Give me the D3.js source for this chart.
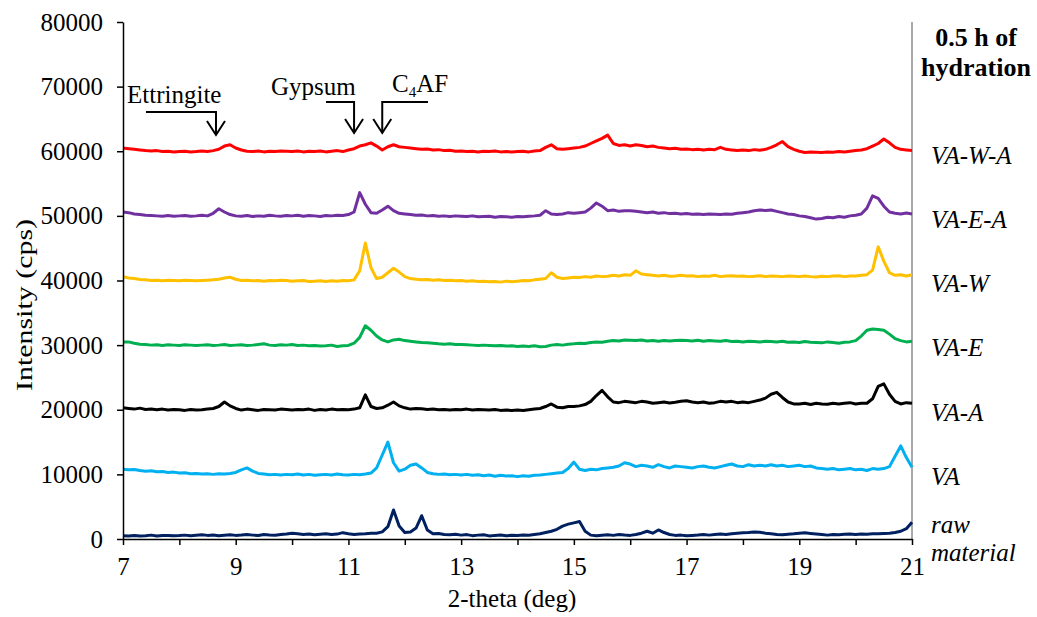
<!DOCTYPE html>
<html>
<head>
<meta charset="utf-8">
<script src="https://cdn.jsdelivr.net/npm/d3@7/dist/d3.min.js"></script>
<style>
  html, body { margin: 0; padding: 0; background: #ffffff; }
  svg { display: block; }
  .serif { font-family: "Liberation Serif", "Times New Roman", Times, serif; }
</style>
</head>
<body>
<svg id="chart" width="1037" height="617"></svg>
<script>
// 2-theta sampling grid (deg)
const twoTheta = [
  7.0,7.1,7.2,7.3,7.4,7.5,7.6,7.7,7.8,7.9,
  8.0,8.1,8.2,8.3,8.4,8.5,8.6,8.7,8.8,8.9,
  9.0,9.1,9.2,9.3,9.4,9.5,9.6,9.7,9.8,9.9,
  10.0,10.1,10.2,10.3,10.4,10.5,10.6,10.7,10.8,10.9,
  11.0,11.1,11.2,11.3,11.4,11.5,11.6,11.7,11.8,11.9,
  12.0,12.1,12.2,12.3,12.4,12.5,12.6,12.7,12.8,12.9,
  13.0,13.1,13.2,13.3,13.4,13.5,13.6,13.7,13.8,13.9,
  14.0,14.1,14.2,14.3,14.4,14.5,14.6,14.7,14.8,14.9,
  15.0,15.1,15.2,15.3,15.4,15.5,15.6,15.7,15.8,15.9,
  16.0,16.1,16.2,16.3,16.4,16.5,16.6,16.7,16.8,16.9,
  17.0,17.1,17.2,17.3,17.4,17.5,17.6,17.7,17.8,17.9,
  18.0,18.1,18.2,18.3,18.4,18.5,18.6,18.7,18.8,18.9,
  19.0,19.1,19.2,19.3,19.4,19.5,19.6,19.7,19.8,19.9,
  20.0,20.1,20.2,20.3,20.4,20.5,20.6,20.7,20.8,20.9,
  21.0
];

// Intensities (cps), stacked patterns as measured with offsets
const rawMaterial = [
  500,450,550,480,520,600,470,530,560,500,
  540,600,520,580,640,560,620,510,590,650,
  560,620,700,600,540,680,620,590,700,760,
  900,820,700,780,650,720,800,690,760,980,
  820,700,760,820,900,900,1100,1900,4500,2000,
  1000,1100,1700,3600,1400,800,850,700,650,720,
  600,680,520,600,650,480,560,620,500,580,
  540,620,580,700,800,1000,1200,1500,2000,2300,
  2500,2700,1200,600,520,580,640,560,700,620,
  560,700,900,1200,900,1400,1000,700,560,600,
  500,560,620,700,600,680,760,700,820,900,
  960,1000,1100,1050,900,800,700,650,720,800,
  900,950,860,780,700,600,700,650,720,760,
  700,780,740,820,800,860,900,1000,1200,1600,
  2600
];
const va = [
  10800,10700,10750,10600,10500,10550,10400,10450,10300,10350,
  10200,10250,10100,10150,10050,10100,10000,10100,10050,10150,
  10300,10700,11000,10500,10150,10050,9950,10000,9900,10000,
  9950,10050,9900,10000,9850,9950,10000,9900,10050,9950,
  9900,10000,9950,10050,10200,11000,13000,15000,11800,10500,
  10800,11400,11600,11000,10300,10100,10000,10050,9950,10000,
  9900,10000,9850,9950,9800,9900,9700,9850,9750,9800,
  9650,9800,9700,9850,9900,10000,10100,10200,10300,10900,
  11900,10800,10600,10800,10700,10900,11000,11100,11300,11800,
  11600,11200,11400,11300,11100,11500,11200,11000,11300,11200,
  11100,11000,11200,11300,11100,11000,11200,11400,11600,11300,
  11200,11500,11300,11400,11300,11500,11300,11400,11200,11300,
  11400,11200,11300,11000,10900,10800,10900,10700,10800,10900,
  10700,10800,10600,10900,10800,10900,11200,12800,14400,12600,
  11100
];
const vaA = [
  20300,20200,20100,20250,20050,20100,20000,20100,19950,20050,
  20000,19900,20050,19950,20000,20100,20200,20500,21200,20600,
  20200,19950,20100,20000,19900,20050,20000,19950,20100,20050,
  19950,20050,20000,20100,19900,20050,19950,20100,20000,20050,
  20000,20100,20300,22300,20500,20200,20300,20700,21200,20600,
  20300,20100,20200,20150,20050,20100,20000,20050,19950,20050,
  20000,20100,19950,20050,20000,19950,20050,19900,19950,19900,
  19950,19900,20000,20100,20200,20500,20900,20400,20300,20500,
  20500,20600,20800,21300,22200,23000,22000,21200,21100,21300,
  21200,21100,21300,21200,21000,21100,21200,21050,21150,21300,
  21400,21200,21100,21200,21000,21100,21300,21200,21300,21100,
  21200,21100,21300,21500,21800,22400,22700,21900,21200,20900,
  20900,21000,20800,21000,20900,20850,21000,20900,21000,21100,
  20900,21000,21000,21700,23600,24000,22400,21300,20900,21100,
  21000
];
const vaE = [
  30500,30500,30300,30150,30100,30000,30050,29950,30050,30000,
  29950,30050,30000,29950,30000,30050,29950,30000,30100,29950,
  30000,30050,29950,30000,30100,30200,30000,29950,30050,30000,
  30100,29950,30000,29900,29950,29850,29900,30000,29800,29900,
  29950,30300,31200,33000,32300,31400,30800,30500,30800,30900,
  30700,30600,30500,30400,30350,30300,30200,30150,30200,30100,
  30100,30050,30000,29950,30000,29950,29900,29950,29850,29900,
  29800,29850,29800,29900,29750,29800,30000,30100,30000,30150,
  30200,30300,30250,30400,30500,30450,30600,30700,30650,30800,
  30750,30700,30800,30650,30700,30600,30700,30650,30700,30750,
  30700,30650,30750,30600,30700,30650,30600,30700,30550,30600,
  30500,30600,30550,30500,30600,30550,30500,30600,30450,30500,
  30400,30550,30450,30400,30350,30500,30400,30300,30450,30500,
  30700,31400,32300,32500,32400,32300,31700,31000,30700,30500,
  30600
];
const vaW = [
  40600,40400,40300,40150,40100,40000,40050,39950,40050,40000,
  39950,40050,40000,39950,40000,40050,40100,40200,40400,40500,
  40200,40000,40050,39950,40000,39900,40000,39950,40050,40000,
  39900,39950,40000,39850,39900,39950,39850,39950,39900,40000,
  39950,40100,41500,45800,42000,40300,40500,41200,41900,41300,
  40600,40300,40200,40100,40150,40050,40100,40000,40050,39950,
  40000,39900,39950,39850,39900,39800,39850,39750,39900,39800,
  39900,40000,39950,40100,40200,40300,41200,40500,40300,40400,
  40500,40450,40600,40500,40700,40600,40650,40800,40700,40900,
  40800,41500,41000,40900,40800,40700,40800,40650,40700,40800,
  40700,40750,40600,40700,40650,40800,40600,40700,40750,40650,
  40700,40600,40650,40750,40600,40700,40650,40600,40700,40650,
  40600,40700,40600,40550,40650,40600,40700,40750,40600,40700,
  40700,40800,40900,41600,45200,43000,41200,40800,40900,40700,
  40900
];
const vaEA = [
  50600,50500,50300,50200,50100,50050,50000,49950,50050,49950,
  50000,50050,49950,50000,50100,50000,50400,51100,50600,50200,
  50000,49950,50050,49900,50000,49950,50100,50000,49950,50050,
  50000,50100,49950,50050,50000,49900,50050,50000,50100,50050,
  50200,50600,53600,51800,50500,50400,50900,51500,50800,50400,
  50300,50200,50100,50150,50000,50050,49950,50000,49900,50000,
  49950,49900,50000,49850,49900,49950,49800,49900,49850,49800,
  49900,49850,49950,50000,50100,50800,50300,50200,50300,50500,
  50400,50500,50600,51200,52000,51500,50800,50900,50700,50800,
  50800,50700,50600,50500,50600,50400,50500,50350,50400,50300,
  50350,50250,50300,50200,50300,50250,50200,50300,50250,50400,
  50500,50600,50800,50900,50850,50900,50700,50500,50300,50200,
  50000,49900,49700,49500,49600,49800,49700,49900,49800,50000,
  50100,50300,51200,53100,52700,51500,50600,50400,50300,50450,
  50300
];
const vaWA = [
  60500,60400,60300,60200,60100,60050,60100,59950,60000,59900,
  59950,60000,59900,59950,60050,59950,60100,60300,60800,61000,
  60500,60200,60000,59950,60050,59900,60000,59950,60050,60000,
  59950,60050,59900,60000,59950,60050,59900,60000,60100,59950,
  60200,60400,60800,61000,61300,60800,60200,60700,61000,60700,
  60600,60500,60400,60300,60350,60200,60250,60100,60150,60000,
  60050,59950,60000,59900,60000,59950,60050,59900,59950,59900,
  59950,60000,59900,60050,60100,60600,61000,60400,60300,60400,
  60500,60600,60800,61200,61600,62000,62500,61200,60900,61000,
  60800,61000,60900,60700,60800,60600,60500,60400,60450,60300,
  60350,60250,60300,60200,60300,60250,60600,60300,60200,60100,
  60200,60100,60250,60150,60300,60600,61000,61500,60700,60300,
  60000,59800,59900,59850,59800,59900,59850,59950,59900,60000,
  60100,60200,60400,60800,61200,61900,61300,60600,60300,60200,
  60100
];

const seriesNames = ["VA-W-A", "VA-E-A", "VA-W", "VA-E", "VA-A", "VA", "raw material"];
const seriesValues = [vaWA, vaEA, vaW, vaE, vaA, va, rawMaterial];
const seriesColors = ["#ff0000", "#7030a0", "#ffc000", "#00b050", "#000000", "#00b0f0", "#002060"];

const yTicks = [0, 10000, 20000, 30000, 40000, 50000, 60000, 70000, 80000];
const xLabelTicks = [7, 9, 11, 13, 15, 17, 19, 21];
const xAllTicks = [7, 8, 9, 10, 11, 12, 13, 14, 15, 16, 17, 18, 19, 20, 21];

// Phase markers: label and the 2-theta the arrow points at
const phaseNames = ["Ettringite", "Gypsum", "C4AF"];
const phaseAngles = [8.65, 11.1, 11.6];

const serifStack = '"Liberation Serif", "Times New Roman", Times, serif';

const svg = d3.select("#chart");
const plotLeft = 123, plotRight = 912, plotTop = 22, plotBottom = 539;

const x = d3.scaleLinear().domain([7, 21]).range([plotLeft, plotRight]);
const y = d3.scaleLinear().domain([0, 80000]).range([plotBottom, plotTop]);

// right frame edge
svg.append("line")
  .attr("x1", plotRight).attr("x2", plotRight).attr("y1", plotTop).attr("y2", plotBottom)
  .attr("stroke", "#8c8c8c").attr("stroke-width", 1.5);

// patterns
const line = d3.line()
  .x((d, i) => x(twoTheta[i]))
  .y(d => y(d));

svg.append("g").selectAll("path")
  .data(seriesValues.map((v, i) => ({ v, c: seriesColors[i] })).reverse())
  .join("path")
  .attr("d", d => line(d.v))
  .attr("fill", "none")
  .attr("stroke", d => d.c)
  .attr("stroke-width", 3)
  .attr("stroke-linejoin", "round");

// y axis
const yAxis = svg.append("g")
  .attr("transform", `translate(${plotLeft},0)`)
  .call(d3.axisLeft(y).tickValues(yTicks).tickFormat(d3.format("d")).tickSize(6).tickSizeOuter(0).tickPadding(14));
yAxis.attr("font-family", serifStack).attr("font-size", 25)
  .style("font-family", serifStack).style("font-size", "25px");
yAxis.select(".domain").attr("stroke", "#000").attr("stroke-width", 1.5);
yAxis.selectAll(".tick line").attr("stroke", "#000").attr("stroke-width", 1.5);
yAxis.selectAll("text").attr("fill", "#000");

// x axis: unlabelled ticks every degree, labels every two
const xAxisMinor = svg.append("g")
  .attr("transform", `translate(0,${plotBottom})`)
  .call(d3.axisBottom(x).tickValues(xAllTicks).tickFormat("").tickSize(6).tickSizeOuter(0));
xAxisMinor.select(".domain").attr("stroke", "#000").attr("stroke-width", 1.5);
xAxisMinor.selectAll(".tick line").attr("stroke", "#000").attr("stroke-width", 1.5);

const xAxis = svg.append("g")
  .attr("transform", `translate(0,${plotBottom})`)
  .call(d3.axisBottom(x).tickValues(xLabelTicks).tickFormat(d3.format("d")).tickSize(0).tickPadding(18));
xAxis.attr("font-family", serifStack).attr("font-size", 25)
  .style("font-family", serifStack).style("font-size", "25px");
xAxis.select(".domain").remove();
xAxis.selectAll("text").attr("fill", "#000");

// text layer
const labels = svg.append("g")
  .attr("font-family", serifStack)
  .style("font-family", serifStack)
  .style("font-size", "25px");

// axis titles
labels.append("text")
  .attr("x", 512).attr("y", 607)
  .attr("text-anchor", "middle")
  .text("2-theta (deg)");

labels.append("text")
  .attr("transform", `translate(32,305) rotate(-90)`)
  .attr("text-anchor", "middle")
  .style("font-size", "24px")
  .attr("textLength", 172)
  .attr("lengthAdjust", "spacingAndGlyphs")
  .text("Intensity (cps)");

// series labels at the right
const labelY = [155, 219, 283, 347, 412, 476];
const seriesLabels = labels.append("g").style("font-style", "italic");
seriesLabels.selectAll("text")
  .data(seriesNames.slice(0, 6))
  .join("text")
  .attr("x", 931)
  .attr("y", (d, i) => labelY[i] + 9)
  .text(d => d);

const rawLabel = seriesLabels.append("text").attr("x", 931).attr("y", 533);
rawLabel.append("tspan").attr("x", 931).text("raw");
rawLabel.append("tspan").attr("x", 931).attr("dy", 28).text("material");

// panel title
const title = labels.append("text")
  .attr("x", 976).attr("y", 46)
  .attr("text-anchor", "middle")
  .style("font-size", "26px")
  .style("font-weight", "bold");
title.append("tspan").attr("x", 976).text("0.5 h of");
title.append("tspan").attr("x", 976).attr("dy", 30).text("hydration");

// phase annotations with arrows
const ann = svg.append("g").attr("stroke", "#000").attr("stroke-width", 2).attr("fill", "none");
function arrow(xTip, barFrom, barY, tipY) {
  ann.append("path").attr("d", `M${barFrom},${barY}H${xTip}V${tipY}`);
  ann.append("path").attr("d", `M${xTip - 9},${tipY - 14}L${xTip},${tipY}L${xTip + 9},${tipY - 14}`);
}
arrow(x(phaseAngles[0]), 146, 112, 135);
arrow(x(phaseAngles[1]), 326, 102, 133);
arrow(x(phaseAngles[2]), 428, 102, 133);

labels.append("text").attr("x", 127).attr("y", 103).text(phaseNames[0]);
labels.append("text").attr("x", 271).attr("y", 95).text(phaseNames[1]);
const c4af = labels.append("text").attr("x", 392).attr("y", 92);
c4af.append("tspan").text("C");
c4af.append("tspan").attr("dy", 5).style("font-size", "15px").text("4");
c4af.append("tspan").attr("dy", -5).text("AF");
</script>
</body>
</html>
